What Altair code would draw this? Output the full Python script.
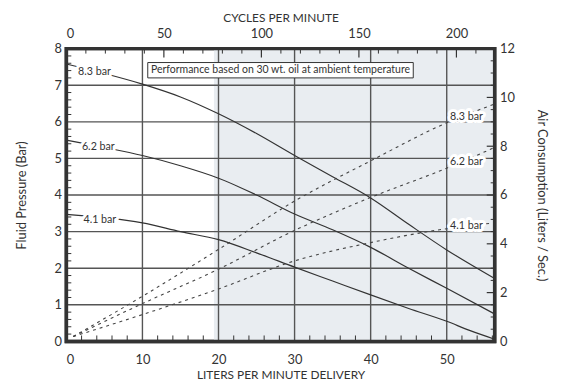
import altair as alt
import pandas as pd

FONT = "Lato"
INK = "#333333"

# ---------------- data ----------------
flow_lpm = [0, 5, 10, 15, 20, 25, 30, 35, 40, 45, 50, 56.3]
fluid_83 = [7.58, 7.32, 7.03, 6.68, 6.22, 5.68, 5.08, 4.5, 3.92, 3.2, 2.5, 1.72]
fluid_62 = [5.5, 5.3, 5.08, 4.8, 4.46, 4.0, 3.48, 3.05, 2.57, 2.0, 1.45, 0.75]
flow_lpm_41 = [0, 5, 10, 15, 20, 25, 30, 35, 40, 45, 50, 53, 56.3]
fluid_41 = [3.47, 3.38, 3.24, 3.0, 2.78, 2.42, 2.03, 1.65, 1.27, 0.9, 0.55, 0.3, 0.06]

air_flow = [0.9, 10, 20, 30, 40, 50, 56.3]
air_83 = [0.2, 1.85, 3.77, 5.75, 7.4, 8.96, 9.73]
air_62 = [0.2, 1.55, 2.96, 4.55, 5.9, 7.1, 7.95]
air_41 = [0.2, 1.1, 2.15, 3.3, 4.05, 4.62, 4.86]

series_names = ["8.3 bar", "6.2 bar", "4.1 bar"]
left_label_x = [3.7, 4.2, 4.4]
left_label_y = [7.35, 5.3, 3.32]
right_label_x = [52.6, 52.6, 52.6]
right_label_y = [9.2, 7.34, 4.74]

x_max = 56.3
cycles_max = 219.6
bottom_labels = [0, 10, 20, 30, 40, 50]
bottom_ticks = [2, 4, 6, 8, 12, 14, 16, 18, 22, 24, 26, 28, 32, 34, 36, 38, 42, 44, 46, 48, 52, 54, 56]
grid_x = [10, 20, 30, 40, 50]
left_labels = [0, 1, 2, 3, 4, 5, 6, 7, 8]
left_ticks = [0.2, 0.4, 0.6, 0.8, 1.2, 1.4, 1.6, 1.8, 2.2, 2.4, 2.6, 2.8, 3.2, 3.4, 3.6, 3.8,
              4.2, 4.4, 4.6, 4.8, 5.2, 5.4, 5.6, 5.8, 6.2, 6.4, 6.6, 6.8, 7.2, 7.4, 7.6, 7.8]
grid_y = [1, 2, 3, 4, 5, 6, 7]
top_labels = [0, 50, 100, 150, 200]
top_minor = [10, 20, 30, 40, 60, 70, 80, 90, 110, 120, 130, 140, 160, 170, 180, 190, 210]
top_major = [50, 100, 150, 200]
right_labels = [0, 2, 4, 6, 8, 10, 12]
right_minor = [0.5, 1, 1.5, 2.5, 3, 3.5, 4.5, 5, 5.5, 6.5, 7, 7.5, 8.5, 9, 9.5, 10.5, 11, 11.5]
right_major = [2, 4, 6, 8, 10]

shade_from = [19.4]
shade_to = [56.3]
note_text = ["Performance based on 30 wt. oil at ambient temperature"]
note_x = [10.7]
note_x2 = [45.6]
note_y = [7.2]
note_y2 = [7.62]

W, H = 433, 296

# ---------------- tables ----------------
fluid_df = pd.concat([
    pd.DataFrame({"flow": flow_lpm, "p": fluid_83, "s": series_names[0]}),
    pd.DataFrame({"flow": flow_lpm, "p": fluid_62, "s": series_names[1]}),
    pd.DataFrame({"flow": flow_lpm_41, "p": fluid_41, "s": series_names[2]}),
])
air_df = pd.concat([
    pd.DataFrame({"flow": air_flow, "a": air_83, "s": series_names[0]}),
    pd.DataFrame({"flow": air_flow, "a": air_62, "s": series_names[1]}),
    pd.DataFrame({"flow": air_flow, "a": air_41, "s": series_names[2]}),
])
left_lab_df = pd.DataFrame({"x": left_label_x, "y": left_label_y, "t": series_names})
right_lab_df = pd.DataFrame({"x": right_label_x, "y": right_label_y, "t": series_names})
shade_df = pd.DataFrame({"a": shade_from, "b": shade_to})
note_df = pd.DataFrame({"x": note_x, "x2": note_x2, "y": note_y, "y2": note_y2, "t": note_text})

xs = alt.Scale(domain=[0, x_max], nice=False, zero=False)
ys = alt.Scale(domain=[0, 8], nice=False)
ya = alt.Scale(domain=[0, 12], nice=False)
xc = alt.Scale(domain=[0, cycles_max], nice=False)

common_axis = dict(ticks=False, domain=False, grid=False, labelFont=FONT, titleFont=FONT,
                   labelFontSize=13, labelColor=INK, titleColor=INK,
                   titleFontWeight="normal")
ax_bottom = alt.Axis(orient="bottom", values=bottom_labels, title="LITERS PER MINUTE DELIVERY",
                     labelPadding=12, titlePadding=3, titleFontSize=12, **common_axis)
ax_left = alt.Axis(orient="left", values=left_labels, title="Fluid Pressure (Bar)",
                   labelPadding=5, titlePadding=26, titleFontSize=13, **common_axis)
ax_right = alt.Axis(orient="right", values=right_labels, title="Air Consumption (Liters / Sec.)",
                    labelPadding=5, titlePadding=20, titleFontSize=13, **common_axis)
ax_top = alt.Axis(orient="top", values=top_labels, title="CYCLES PER MINUTE",
                  labelPadding=8, titlePadding=3, titleFontSize=12, **common_axis)

# ---------------- layer A: liters vs fluid pressure ----------------
shade = alt.Chart(shade_df).mark_rect(color="#e9edf1").encode(
    x=alt.X("a:Q", scale=xs, axis=ax_bottom), x2="b:Q",
    y=alt.value(0), y2=alt.value(H))

vgrid = alt.Chart(pd.DataFrame({"g": grid_x})).mark_rule(color="#555555", strokeWidth=1.4).encode(
    x=alt.X("g:Q", scale=xs, axis=ax_bottom), y=alt.value(0), y2=alt.value(H))
hgrid = alt.Chart(pd.DataFrame({"g": grid_y})).mark_rule(color="#555555", strokeWidth=1.4).encode(
    y=alt.Y("g:Q", scale=ys, axis=ax_left), x=alt.value(0), x2=alt.value(W))

bticks = alt.Chart(pd.DataFrame({"t": bottom_ticks})).mark_rule(color=INK, strokeWidth=1).encode(
    x=alt.X("t:Q", scale=xs, axis=ax_bottom), y=alt.value(H), y2=alt.value(H - 6))
lticks = alt.Chart(pd.DataFrame({"t": left_ticks})).mark_rule(color=INK, strokeWidth=1).encode(
    y=alt.Y("t:Q", scale=ys, axis=ax_left), x=alt.value(0), x2=alt.value(5))

fluid = alt.Chart(fluid_df).mark_line(color=INK, strokeWidth=1.2, interpolate="monotone").encode(
    x=alt.X("flow:Q", scale=xs, axis=ax_bottom),
    y=alt.Y("p:Q", scale=ys, axis=ax_left),
    detail="s:N")

note_box = alt.Chart(note_df).mark_rect(fill="white", stroke=INK, strokeWidth=1).encode(
    x=alt.X("x:Q", scale=xs, axis=ax_bottom), x2="x2:Q",
    y=alt.Y("y:Q", scale=ys, axis=ax_left), y2="y2:Q")
note_txt = alt.Chart(note_df).transform_calculate(cx="(datum.x + datum.x2) / 2",
                                                  cy="(datum.y + datum.y2) / 2").mark_text(
    font=FONT, fontSize=10.6, color=INK, baseline="middle", align="center").encode(
    x=alt.X("cx:Q", scale=xs, axis=ax_bottom),
    y=alt.Y("cy:Q", scale=ys, axis=ax_left), text="t:N")

lab_halo = alt.Chart(left_lab_df).mark_text(
    font=FONT, fontSize=10.8, color="white", stroke="white", strokeWidth=6, strokeJoin="round",
    baseline="middle").encode(
    x=alt.X("x:Q", scale=xs, axis=ax_bottom), y=alt.Y("y:Q", scale=ys, axis=ax_left), text="t:N")
lab_text = alt.Chart(left_lab_df).mark_text(
    font=FONT, fontSize=10.8, color=INK, baseline="middle").encode(
    x=alt.X("x:Q", scale=xs, axis=ax_bottom), y=alt.Y("y:Q", scale=ys, axis=ax_left), text="t:N")

layer_a = alt.layer(shade, vgrid, hgrid, bticks, lticks, fluid, note_box, note_txt, lab_halo, lab_text)

# ---------------- layer B: liters vs air consumption ----------------
air = alt.Chart(air_df).mark_line(color="#444444", strokeWidth=1.1, strokeDash=[3, 4],
                                  interpolate="monotone").encode(
    x=alt.X("flow:Q", scale=xs, axis=None),
    y=alt.Y("a:Q", scale=ya, axis=ax_right),
    detail="s:N")
rminor = alt.Chart(pd.DataFrame({"t": right_minor})).mark_rule(color=INK, strokeWidth=1).encode(
    y=alt.Y("t:Q", scale=ya, axis=ax_right), x=alt.value(W), x2=alt.value(W - 4))
rmajor = alt.Chart(pd.DataFrame({"t": right_major})).mark_rule(color=INK, strokeWidth=1.2).encode(
    y=alt.Y("t:Q", scale=ya, axis=ax_right), x=alt.value(W), x2=alt.value(W - 8))
rlab_halo = alt.Chart(right_lab_df).mark_text(
    font=FONT, fontSize=10.8, color="white", stroke="white", strokeWidth=6, strokeJoin="round",
    baseline="middle").encode(
    x=alt.X("x:Q", scale=xs, axis=None), y=alt.Y("y:Q", scale=ya, axis=ax_right), text="t:N")
rlab_text = alt.Chart(right_lab_df).mark_text(
    font=FONT, fontSize=10.8, color=INK, baseline="middle").encode(
    x=alt.X("x:Q", scale=xs, axis=None), y=alt.Y("y:Q", scale=ya, axis=ax_right), text="t:N")

layer_b = alt.layer(air, rminor, rmajor, rlab_halo, rlab_text)

# ---------------- layer C: cycles per minute (top axis) + frame ----------------
tminor = alt.Chart(pd.DataFrame({"c": top_minor})).mark_rule(color=INK, strokeWidth=1).encode(
    x=alt.X("c:Q", scale=xc, axis=ax_top), y=alt.value(0), y2=alt.value(5))
tmajor = alt.Chart(pd.DataFrame({"c": top_major})).mark_rule(color=INK, strokeWidth=1.2).encode(
    x=alt.X("c:Q", scale=xc, axis=ax_top), y=alt.value(0), y2=alt.value(9))
frame = alt.Chart(pd.DataFrame({"f": [0]})).mark_rect(
    filled=False, stroke=INK, strokeWidth=3.5).encode(
    x=alt.value(0), x2=alt.value(W), y=alt.value(0), y2=alt.value(H))
layer_c = alt.layer(tminor, tmajor, frame)

chart = alt.layer(layer_a, layer_b, layer_c).resolve_scale(
    x="independent", y="independent"
).properties(
    width=W, height=H,
    autosize=alt.AutoSizeParams(type="none"),
    padding={"left": 59, "top": 39, "right": 60, "bottom": 42},
    background="white",
).configure_view(
    stroke=INK, strokeWidth=3.5
)

chart.save("out.html", embed_options={"renderer": "svg", "actions": False})
